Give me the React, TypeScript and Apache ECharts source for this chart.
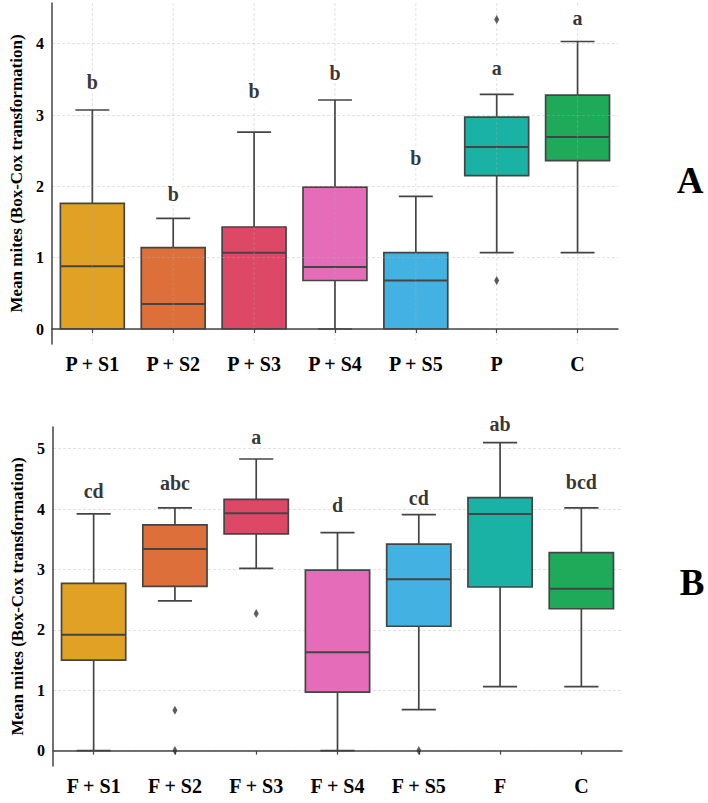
import React, { useEffect, useRef } from "react";
import * as echarts from "echarts";

const catsA = ["P + S1", "P + S2", "P + S3", "P + S4", "P + S5", "P", "C"];
// [min, Q1, median, Q3, max]
const boxA = [
  [0, 0, 0.88, 1.76, 3.07],
  [0, 0, 0.35, 1.14, 1.55],
  [0, 0, 1.07, 1.43, 2.76],
  [0, 0.68, 0.87, 1.99, 3.21],
  [0, 0, 0.68, 1.07, 1.86],
  [1.07, 2.15, 2.55, 2.97, 3.29],
  [1.07, 2.36, 2.69, 3.28, 4.03],
];
const outliersA = [
  [5, 4.34],
  [5, 0.68],
];
const lettersA = ["b", "b", "b", "b", "b", "a", "a"];
const letterYA = [3.46, 1.89, 3.34, 3.59, 2.4, 3.66, 4.36];

const catsB = ["F + S1", "F + S2", "F + S3", "F + S4", "F + S5", "F", "C"];
const boxB = [
  [0, 1.5, 1.92, 2.77, 3.92],
  [2.48, 2.72, 3.34, 3.74, 4.02],
  [3.02, 3.59, 3.93, 4.16, 4.83],
  [0, 0.97, 1.63, 2.99, 3.61],
  [0.68, 2.06, 2.84, 3.42, 3.91],
  [1.06, 2.71, 3.92, 4.19, 5.1],
  [1.06, 2.35, 2.68, 3.28, 4.02],
];
const outliersB = [
  [1, 0.67],
  [1, 0],
  [2, 2.27],
  [4, 0],
];
const lettersB = ["cd", "abc", "a", "d", "cd", "ab", "bcd"];
const letterYB = [4.3, 4.44, 5.2, 4.06, 4.18, 5.41, 4.45];

const yTitle = "Mean mites (Box-Cox transformation)";
const panelLabels = ["A", "B"];

const colors = ["#E0A124", "#DD703A", "#DC4865", "#E56CB9", "#43B2E3", "#19B2A5", "#1EAA58"];

const FONT = '"Liberation Serif", "Times New Roman", serif';
const DARK = "#444";
const GRIDC = "rgba(175,175,175,0.38)";
const TXT = "#000";

function makeRender(withVGrid: boolean) {
  return (params: any, api: any) => {
    const idx = api.value(0);
    const vMin = api.value(1);
    const vQ1 = api.value(2);
    const vMed = api.value(3);
    const vQ3 = api.value(4);
    const vMax = api.value(5);
    const pMin = api.coord([idx, vMin]);
    const pQ1 = api.coord([idx, vQ1]);
    const pMed = api.coord([idx, vMed]);
    const pQ3 = api.coord([idx, vQ3]);
    const pMax = api.coord([idx, vMax]);
    const band = api.size([1, 0])[0];
    const boxW = band * 0.79;
    const capW = band * 0.42;
    const cx = pMed[0];
    const cs = params.coordSys;
    const lineStyle = { stroke: DARK, lineWidth: 1.7 };
    const gridStyle = { stroke: GRIDC, lineWidth: 1, lineDash: [3, 2] };
    const children: any[] = [];
    if (withVGrid) {
      children.push({
        type: "line",
        shape: { x1: cx, y1: cs.y, x2: cx, y2: cs.y + cs.height },
        style: gridStyle,
      });
    }
    children.push({
      type: "line",
      shape: { x1: cx, y1: pQ3[1], x2: cx, y2: pMax[1] },
      style: lineStyle,
    });
    children.push({
      type: "line",
      shape: { x1: cx, y1: pQ1[1], x2: cx, y2: pMin[1] },
      style: lineStyle,
    });
    if (vMax > vQ3) {
      children.push({
        type: "line",
        shape: { x1: cx - capW / 2, y1: pMax[1], x2: cx + capW / 2, y2: pMax[1] },
        style: lineStyle,
      });
    }
    if (vMin < vQ1) {
      children.push({
        type: "line",
        shape: { x1: cx - capW / 2, y1: pMin[1], x2: cx + capW / 2, y2: pMin[1] },
        style: lineStyle,
      });
    }
    children.push({
      type: "rect",
      shape: { x: cx - boxW / 2, y: pQ3[1], width: boxW, height: pQ1[1] - pQ3[1] },
      style: { fill: colors[idx], stroke: DARK, lineWidth: 1.7 },
    });
    children.push({
      type: "line",
      shape: { x1: cx - boxW / 2, y1: pMed[1], x2: cx + boxW / 2, y2: pMed[1] },
      style: { stroke: DARK, lineWidth: 2 },
    });
    if (withVGrid) {
      children.push({
        type: "line",
        shape: { x1: cx, y1: pQ3[1], x2: cx, y2: pQ1[1] },
        style: gridStyle,
      });
    }
    return { type: "group", children };
  };
}

function xAxisOpt(cats: string[], gridIndex: number, z: number) {
  return {
    type: "category",
    gridIndex,
    data: cats,
    z,
    axisLine: { show: true, lineStyle: { color: DARK, width: 1.5 } },
    axisTick: { show: true, alignWithLabel: true, length: 4, lineStyle: { color: DARK, width: 1.2 } },
    axisLabel: {
      margin: 10,
      fontFamily: FONT,
      fontWeight: "bold",
      fontSize: 20,
      color: TXT,
    },
    splitLine: { show: false },
  };
}

function yAxisOpt(gridIndex: number, min: number, max: number, z: number) {
  return {
    type: "value",
    gridIndex,
    min,
    max,
    splitNumber: 5,
    z,
    name: yTitle,
    nameLocation: "middle",
    nameGap: 23,
    nameRotate: 90,
    nameTextStyle: { fontFamily: FONT, fontWeight: "bold", fontSize: 17, color: TXT },
    axisLine: { show: true, lineStyle: { color: DARK, width: 1.5 } },
    axisTick: { show: false },
    axisLabel: {
      showMinLabel: false,
      showMaxLabel: false,
      margin: 8,
      fontFamily: FONT,
      fontWeight: "bold",
      fontSize: 16,
      color: TXT,
      formatter: (v: number) => (Math.abs(v - Math.round(v)) < 1e-9 ? String(Math.round(v)) : ""),
    },
    splitLine: {
      show: true,
      showMinLine: false,
      showMaxLine: false,
      lineStyle: { color: GRIDC, type: [3, 2], width: 1 },
    },
  };
}

function letterSeries(idx: number, letters: string[], ys: number[]) {
  return {
    type: "scatter",
    xAxisIndex: idx,
    yAxisIndex: idx,
    z: 6,
    silent: true,
    clip: false,
    symbol: "circle",
    symbolSize: 1,
    itemStyle: { color: "rgba(0,0,0,0)" },
    data: ys.map((y, i) => [i, y]),
    label: {
      show: true,
      position: "inside",
      formatter: (p: any) => letters[p.dataIndex],
      fontFamily: FONT,
      fontWeight: "bold",
      fontSize: 20,
      color: TXT,
      backgroundColor: "#fff",
      padding: [0, 2],
    },
  };
}

function outlierSeries(idx: number, pts: number[][]) {
  return {
    type: "scatter",
    xAxisIndex: idx,
    yAxisIndex: idx,
    z: 4,
    clip: false,
    symbol: "diamond",
    symbolSize: [5, 9],
    itemStyle: { color: "#333" },
    data: pts,
  };
}

export default function App() {
  const ref = useRef<HTMLDivElement>(null);
  useEffect(() => {
    if (!ref.current) return;
    const chart = echarts.init(ref.current, undefined, { renderer: "svg" });
    const option: any = {
      animation: false,
      backgroundColor: "#fff",
      grid: [
        { left: 48, top: 3, width: 570, height: 341 },
        { left: 53, top: 427, width: 569, height: 339 },
      ],
      xAxis: [xAxisOpt(catsA, 0, 3), xAxisOpt(catsB, 1, 0)],
      yAxis: [yAxisOpt(0, -0.21, 4.57, 3), yAxisOpt(1, -0.255, 5.36, 0)],
      series: [
        {
          type: "custom",
          xAxisIndex: 0,
          yAxisIndex: 0,
          z: 2,
          renderItem: makeRender(true),
          encode: { x: 0, y: [1, 2, 3, 4, 5] },
          data: boxA.map((b, i) => [i, ...b]),
        },
        outlierSeries(0, outliersA),
        letterSeries(0, lettersA, letterYA),
        {
          type: "custom",
          xAxisIndex: 1,
          yAxisIndex: 1,
          z: 2,
          renderItem: makeRender(false),
          encode: { x: 0, y: [1, 2, 3, 4, 5] },
          data: boxB.map((b, i) => [i, ...b]),
        },
        outlierSeries(1, outliersB),
        letterSeries(1, lettersB, letterYB),
      ],
      graphic: [
        {
          type: "text",
          x: 690,
          y: 180,
          style: {
            text: panelLabels[0],
            font: 'bold 37px "Liberation Serif"',
            fill: TXT,
            textAlign: "center",
            textVerticalAlign: "middle",
          },
        },
        {
          type: "text",
          x: 692,
          y: 582,
          style: {
            text: panelLabels[1],
            font: 'bold 37px "Liberation Serif"',
            fill: TXT,
            textAlign: "center",
            textVerticalAlign: "middle",
          },
        },
      ],
    };
    chart.setOption(option);
    return () => chart.dispose();
  }, []);
  return (
    <div
      ref={ref}
      style={{ position: "absolute", left: 0, top: 0, width: 708, height: 803, background: "#fff" }}
    />
  );
}
